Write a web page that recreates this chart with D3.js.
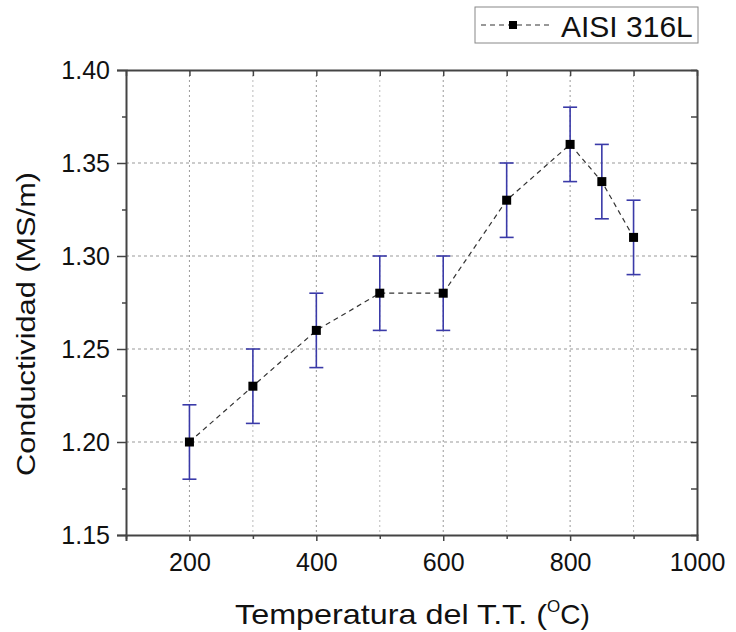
<!DOCTYPE html>
<html>
<head>
<meta charset="utf-8">
<script src="https://cdn.jsdelivr.net/npm/d3@7"></script>
<style>
  body { margin: 0; background: #fff; }
  text { font-family: "Liberation Sans", Arial, sans-serif; }
</style>
</head>
<body>
<div id="chart"></div>
<script>
// data
var temps = [200, 300, 400, 500, 600, 700, 800, 850, 900];
var cond  = [1.20, 1.23, 1.26, 1.28, 1.28, 1.33, 1.36, 1.34, 1.31];
var errs  = [0.02, 0.02, 0.02, 0.02, 0.02, 0.02, 0.02, 0.02, 0.02];
var xTicks = [200, 400, 600, 800, 1000];
var yTicks = [1.15, 1.20, 1.25, 1.30, 1.35, 1.40];
var seriesName = "AISI 316L";

var W = 736, H = 632;
var margin = {top: 70, right: 39, bottom: 97, left: 126},
    width = W - margin.left - margin.right,
    height = H - margin.top - margin.bottom;

var svg = d3.select("#chart").append("svg")
    .attr("width", W).attr("height", H);
var g = svg.append("g")
    .attr("transform", "translate(" + margin.left + "," + margin.top + ")");

var x = d3.scaleLinear().domain([100, 1000]).range([0, width]);
var y = d3.scaleLinear().domain([1.15, 1.40]).range([height, 0]);

var data = temps.map(function(t, i) { return {t: t, v: cond[i], e: errs[i]}; });

// grid
var xGrid = d3.range(200, 1000, 100);
g.append("g").selectAll("line").data(xGrid).enter().append("line")
    .attr("x1", d => x(d)).attr("x2", d => x(d))
    .attr("y1", 0).attr("y2", height)
    .attr("stroke", d => d % 200 == 0 ? "#999" : "#bbb")
    .attr("stroke-width", 1)
    .attr("stroke-dasharray", "2,3");
g.append("g").selectAll("line").data(yTicks.slice(1, -1)).enter().append("line")
    .attr("x1", 0).attr("x2", width)
    .attr("y1", d => y(d)).attr("y2", d => y(d))
    .attr("stroke", "#999")
    .attr("stroke-width", 1)
    .attr("stroke-dasharray", "3,3");

// axes
var axisColor = "#444";
function styleAxis(sel) {
  sel.select(".domain").attr("stroke", axisColor).attr("stroke-width", 2);
  sel.selectAll(".tick line").attr("stroke", axisColor).attr("stroke-width", 1.5);
}
// minor ticks
var xMinor = d3.range(100, 1001, 100).filter(d => d % 200 != 0);
var yMinor = [1.175, 1.225, 1.275, 1.325, 1.375];

var xb = g.append("g").attr("transform", "translate(0," + height + ")")
    .call(d3.axisBottom(x).tickValues(xTicks).tickSize(6).tickPadding(12).tickFormat(d3.format("d")));
xb.selectAll(".tick text").style("font-size", "25px").attr("fill", "#111");
styleAxis(xb);
var xbm = g.append("g").attr("transform", "translate(0," + height + ")")
    .call(d3.axisBottom(x).tickValues(xMinor).tickSize(4).tickFormat(""));
xbm.select(".domain").remove();
styleAxis(xbm);

var yl = g.append("g")
    .call(d3.axisLeft(y).tickValues(yTicks).tickSize(9).tickPadding(7).tickFormat(d3.format(".2f")));
yl.selectAll(".tick text").style("font-size", "25px").attr("fill", "#111");
styleAxis(yl);
var ylm = g.append("g")
    .call(d3.axisLeft(y).tickValues(yMinor).tickSize(4).tickFormat(""));
ylm.select(".domain").remove();
styleAxis(ylm);

// top and right frame with inward ticks
var xt = g.append("g")
    .call(d3.axisBottom(x).tickValues(xTicks.concat(xMinor)).tickSizeInner(6).tickSizeOuter(0).tickFormat(""));
styleAxis(xt);
var yr = g.append("g").attr("transform", "translate(" + width + ",0)")
    .call(d3.axisLeft(y).tickValues(yTicks.concat(yMinor)).tickSizeInner(6).tickSizeOuter(0).tickFormat(""));
styleAxis(yr);

// dashed line
g.append("path").datum(data)
    .attr("fill", "none")
    .attr("stroke", "#333")
    .attr("stroke-width", 1.2)
    .attr("stroke-dasharray", "5,4")
    .attr("d", d3.line().x(d => x(d.t)).y(d => y(d.v)));

// error bars
var eb = g.append("g").attr("stroke", "#3a3aa8").attr("stroke-width", 1.6);
eb.selectAll(".v").data(data).enter().append("line")
    .attr("x1", d => x(d.t)).attr("x2", d => x(d.t))
    .attr("y1", d => y(d.v - d.e)).attr("y2", d => y(d.v + d.e));
eb.selectAll(".top").data(data).enter().append("line")
    .attr("x1", d => x(d.t) - 7).attr("x2", d => x(d.t) + 7)
    .attr("y1", d => y(d.v + d.e)).attr("y2", d => y(d.v + d.e));
eb.selectAll(".bot").data(data).enter().append("line")
    .attr("x1", d => x(d.t) - 7).attr("x2", d => x(d.t) + 7)
    .attr("y1", d => y(d.v - d.e)).attr("y2", d => y(d.v - d.e));

// markers
g.selectAll(".pt").data(data).enter().append("rect")
    .attr("x", d => x(d.t) - 4.5).attr("y", d => y(d.v) - 4.5)
    .attr("width", 9).attr("height", 9)
    .attr("fill", "#000");

// axis titles
svg.append("text")
    .attr("transform", "translate(35,324) rotate(-90)")
    .attr("text-anchor", "middle")
    .attr("textLength", 304).attr("lengthAdjust", "spacingAndGlyphs")
    .style("font-size", "25px").attr("fill", "#111")
    .text("Conductividad (MS/m)");

var xt2 = svg.append("text")
    .attr("x", 235).attr("y", 624)
    .attr("fill", "#111")
    .style("font-size", "28px");
xt2.append("tspan").attr("textLength", 312).attr("lengthAdjust", "spacingAndGlyphs").text("Temperatura del T.T. (");
xt2.append("tspan").attr("dy", -12).style("font-size", "17px").text("O");
xt2.append("tspan").attr("dy", 12).text("C)");

// legend
var lg = svg.append("g").attr("transform", "translate(475,7)");
lg.append("rect").attr("width", 223).attr("height", 36)
    .attr("fill", "#fff").attr("stroke", "#888").attr("stroke-width", 1);
lg.append("line").attr("x1", 6).attr("x2", 78).attr("y1", 18).attr("y2", 18)
    .attr("stroke", "#333").attr("stroke-width", 1.2).attr("stroke-dasharray", "5,4");
lg.append("rect").attr("x", 34).attr("y", 14).attr("width", 8).attr("height", 8).attr("fill", "#000");
lg.append("text").attr("x", 86).attr("y", 30)
    .style("font-size", "30px").attr("fill", "#111").text(seriesName);
</script>
</body>
</html>
